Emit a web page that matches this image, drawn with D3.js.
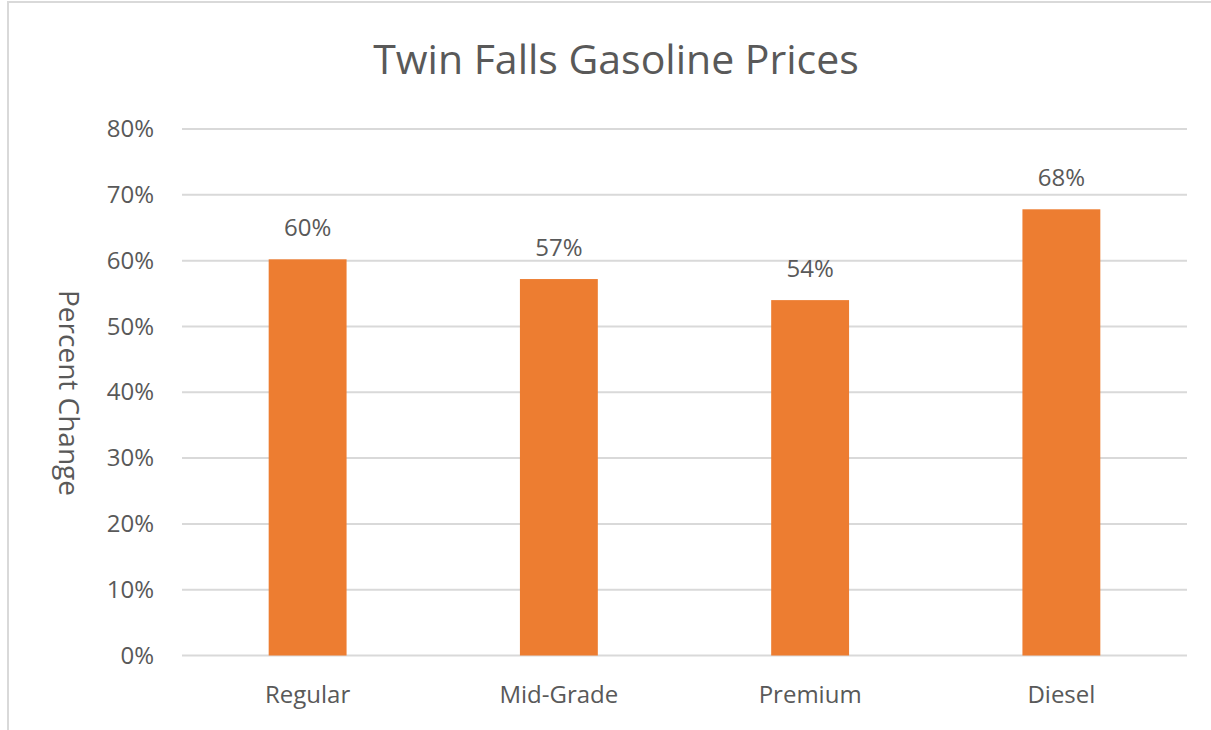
<!DOCTYPE html>
<html>
<head>
<meta charset="utf-8">
<script src="https://cdn.jsdelivr.net/npm/d3@7"></script>
<style>
  body { margin: 0; background: #fff; }
  text { font-family: "Open Sans", sans-serif; fill: #595959; }
</style>
</head>
<body>
<svg id="chart" width="1211" height="730"></svg>
<script>
// Données du graphique
const categories = ["Regular", "Mid-Grade", "Premium", "Diesel"];
const values = [0.602, 0.572, 0.54, 0.678];
const labels = ["60%", "57%", "54%", "68%"];
const yTicks = [0, 0.1, 0.2, 0.3, 0.4, 0.5, 0.6, 0.7, 0.8];

var svg = d3.select("#chart");

// cadre du graphique
svg.append("rect")
  .attr("x", 8).attr("y", 2)
  .attr("width", 1300).attr("height", 800)
  .attr("fill", "none")
  .attr("stroke", "#d9d9d9")
  .attr("stroke-width", 2);

var x = d3.scaleBand()
  .domain(categories)
  .range([182, 1187])
  .paddingInner(0.69)
  .paddingOuter(0.345);

var y = d3.scaleLinear()
  .domain([0, 0.8])
  .range([655.5, 129]);

// grille horizontale
svg.append("g")
  .selectAll("line")
  .data(yTicks)
  .enter()
  .append("line")
  .attr("x1", 182).attr("x2", 1187)
  .attr("y1", d => y(d)).attr("y2", d => y(d))
  .attr("stroke", "#d9d9d9")
  .attr("stroke-width", 2);

// axe des y (étiquettes seulement)
var yAxis = svg.append("g")
  .attr("transform", "translate(182,0)")
  .call(d3.axisLeft(y).tickValues(yTicks).tickFormat(d3.format(".0%")).tickSize(0).tickPadding(28));
yAxis.select(".domain").remove();
yAxis.selectAll("text")
  .style("font-family", "Open Sans")
  .style("font-size", "24px")
  .attr("fill", "#595959");

// barres
svg.append("g")
  .selectAll("rect")
  .data(values)
  .enter()
  .append("rect")
  .attr("x", (d, i) => x(categories[i]))
  .attr("y", d => y(d))
  .attr("width", x.bandwidth())
  .attr("height", d => y(0) - y(d))
  .attr("fill", "#ed7d31");

// étiquettes des valeurs
svg.append("g")
  .selectAll("text")
  .data(values)
  .enter()
  .append("text")
  .attr("x", (d, i) => x(categories[i]) + x.bandwidth() / 2)
  .attr("y", d => y(d) - 23)
  .attr("text-anchor", "middle")
  .style("font-size", "24px")
  .text((d, i) => labels[i]);

// axe des x
var xAxis = svg.append("g")
  .attr("transform", "translate(0," + y(0) + ")")
  .call(d3.axisBottom(x).tickSize(0).tickPadding(30));
xAxis.select(".domain").remove();
xAxis.selectAll("text")
  .style("font-family", "Open Sans")
  .style("font-size", "24px")
  .attr("fill", "#595959");

// titre
svg.append("text")
  .attr("x", 616).attr("y", 74)
  .attr("text-anchor", "middle")
  .style("font-size", "41px")
  .text("Twin Falls Gasoline Prices");

// titre de l'axe y
svg.append("text")
  .attr("transform", "translate(59,393) rotate(90)")
  .attr("text-anchor", "middle")
  .style("font-size", "28px")
  .text("Percent Change");
</script>
</body>
</html>
